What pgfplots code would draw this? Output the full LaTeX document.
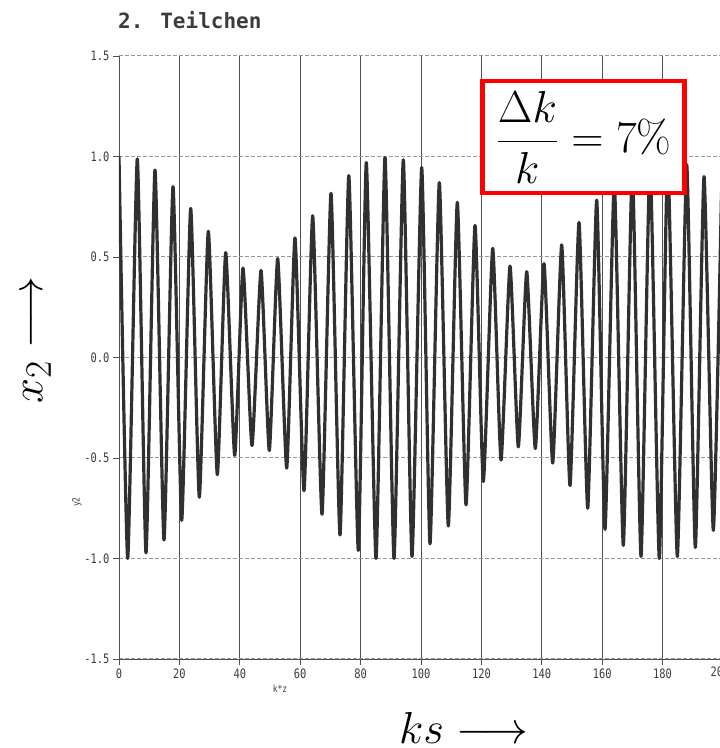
\documentclass[border=0pt]{standalone}
\usepackage{graphicx}
\usepackage{fontspec}
\usepackage{pgfplots}
\pgfplotsset{compat=1.18}
\newfontfamily\tickfont[FakeStretch=0.8]{DejaVu Sans Mono}
\newfontfamily\titlefont{DejaVu Sans Mono}
\definecolor{curve}{RGB}{48,48,48}
\definecolor{vgrid}{RGB}{80,80,80}
\definecolor{hgrid}{RGB}{150,150,155}
\definecolor{txt}{RGB}{60,60,60}
\newcommand{\bigmath}[1]{\scalebox{1.8}{\Huge #1}}

\pgfplotstableread{
x y
0 1.0
2.88 -1.0
6.06 0.988
8.94 -0.972
11.92 0.933
14.9 -0.908
17.88 0.85
20.76 -0.81
23.74 0.742
26.59 -0.695
29.57 0.628
32.55 -0.583
35.33 0.522
38.31 -0.487
41.06 0.445
44.04 -0.438
47.02 0.433
49.77 -0.463
52.55 0.492
55.53 -0.55
58.28 0.595
61.26 -0.663
64.14 0.705
67.22 -0.78
70.2 0.817
73.18 -0.883
76.1 0.905
79.24 -0.96
81.89 0.97
85.1 -1.0
88.08 0.995
91.06 -1.0
94.14 0.983
97.02 -0.99
100.23 0.945
102.98 -0.927
106.06 0.87
109.04 -0.838
112.02 0.772
114.9 -0.733
117.88 0.657
120.63 -0.617
123.74 0.543
126.49 -0.51
129.47 0.455
132.22 -0.445
135.0 0.427
137.85 -0.453
140.73 0.467
143.61 -0.525
146.59 0.56
149.34 -0.637
152.32 0.672
155.2 -0.75
158.18 0.783
160.93 -0.855
164.0 0.87
166.99 -0.935
169.97 0.94
172.85 -0.99
175.83 0.98
178.91 -1.0
181.69 0.995
184.87 -0.99
187.98 0.96
190.83 -0.945
193.71 0.9
196.79 -0.86
199.5 0.82
}\datatable

\begin{document}
\begin{tikzpicture}
\begin{axis}[
  name=ax,
  scale only axis,
  width=601pt, height=603pt,
  xmin=0, xmax=199,
  ymin=-1.5, ymax=1.5,
  axis x line*=bottom,
  axis y line*=left,
  axis line style={-, draw=vgrid, line width=0.9pt},
  xtick={0,20,...,180},
  xticklabels={0,20,40,60,80,100,120,140,160,180},
  ytick={-1.5,-1,-0.5,0,0.5,1,1.5},
  yticklabels={-1.5,-1.0,-0.5,0.0,0.5,1.0,1.5},
  tick label style={font=\fontsize{13}{14}\tickfont, text=txt},
  tick align=outside,
  major tick length=6pt,
  tick style={draw=vgrid, line width=0.8pt},
  grid=major,
  major x grid style={draw=vgrid, line width=0.9pt},
  major y grid style={draw=hgrid, line width=1pt, dash pattern=on 4pt off 2pt},
]
\addplot[curve, line width=3.2pt, smooth, tension=0.3, line join=round] table[x=x,y=y] {\datatable};
\coordinate (NW) at (rel axis cs:0,1);
\end{axis}
\node[anchor=west, font=\fontsize{21}{24}\titlefont\bfseries, text=txt, inner sep=0pt]
  at ([xshift=-1pt, yshift=36pt]NW) {2. Teilchen};
\node[font=\fontsize{13}{14}\tickfont, text=txt] at ([xshift=601pt, yshift=-616pt]NW) {200};
\node[rotate=90, font=\fontsize{10}{11}\tickfont, text=txt] at ([xshift=-42pt, yshift=-446pt]NW) {y2};
\node[font=\fontsize{10}{11}\tickfont, text=txt] at ([xshift=161pt, yshift=-633pt]NW) {k*z};
\node[rotate=90, inner sep=0pt] at ([xshift=-82pt, yshift=-284pt]NW) {\bigmath{$x_2 \longrightarrow$}};
\node at ([xshift=345pt, yshift=-672pt]NW) {\bigmath{$ks \longrightarrow$}};
\node[draw=red, line width=4.5pt, fill=white, minimum width=202pt, minimum height=112pt, inner sep=0pt]
  at ([xshift=464.5pt, yshift=-81pt]NW)
  {\bigmath{$\displaystyle\frac{\Delta k}{k} = 7\%$}};
\pgfresetboundingbox
\path[use as bounding box] ([xshift=-119pt, yshift=56pt]NW) rectangle ([xshift=601pt, yshift=-692pt]NW);
\end{tikzpicture}
\end{document}
